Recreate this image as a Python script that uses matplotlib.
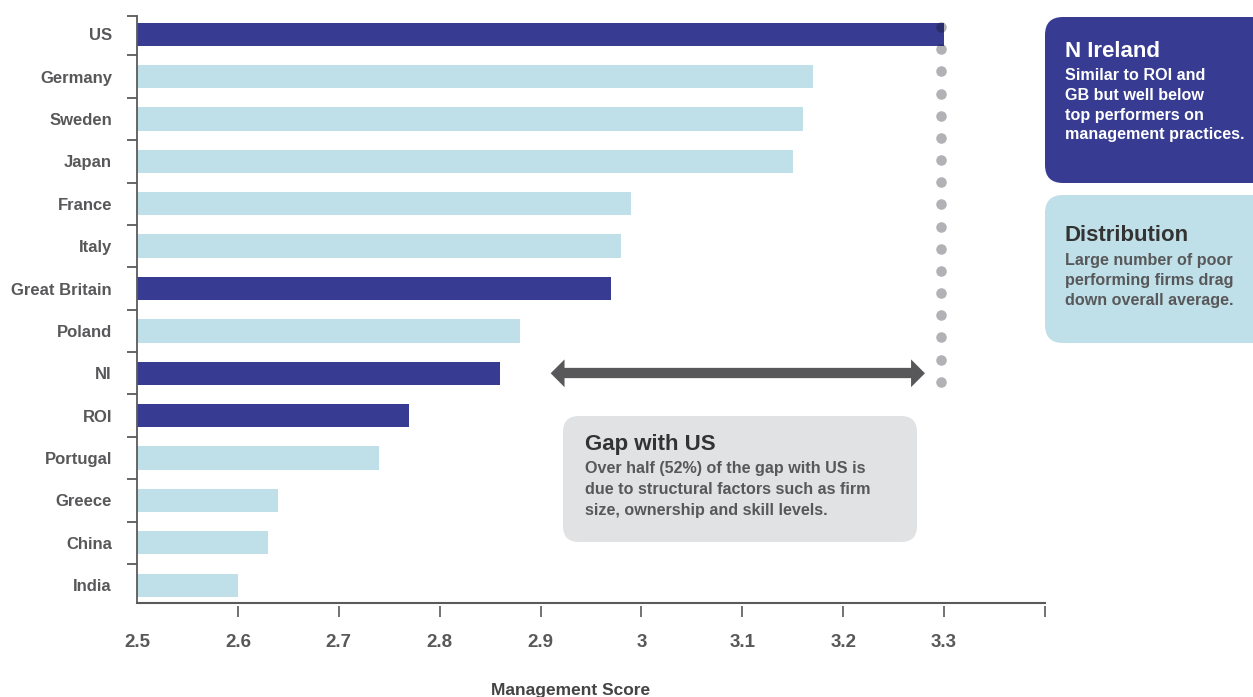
import numpy as np
import matplotlib
matplotlib.use("Agg")
import matplotlib.pyplot as plt
from matplotlib.patches import FancyBboxPatch, FancyArrowPatch

# ---------------- data ----------------
countries = ["US", "Germany", "Sweden", "Japan", "France", "Italy", "Great Britain",
             "Poland", "NI", "ROI", "Portugal", "Greece", "China", "India"]
scores = [3.30, 3.17, 3.16, 3.15, 2.99, 2.98, 2.97, 2.88, 2.86, 2.77, 2.74, 2.64, 2.63, 2.60]
highlight = ["US", "Great Britain", "NI", "ROI"]
x_ticks = [2.5, 2.6, 2.7, 2.8, 2.9, 3.0, 3.1, 3.2, 3.3, 3.4]
x_tick_labels = ["2.5", "2.6", "2.7", "2.8", "2.9", "3", "3.1", "3.2", "3.3", ""]
x_label = "Management Score"

gap_title = "Gap with US"
gap_lines = ["Over half (52%) of the gap with US is",
             "due to structural factors such as firm",
             "size, ownership and skill levels."]
ni_title = "N Ireland"
ni_lines = ["Similar to ROI and", "GB but well below",
            "top performers on", "management practices."]
dist_title = "Distribution"
dist_lines = ["Large number of poor", "performing firms drag",
              "down overall average."]

# ---------------- style ----------------
DARK = "#373c92"
LIGHT = "#bfe0e8"
GREY_TXT = "#58585a"
AX_COL = "#5a5a5c"
ARROW_COL = "#58585a"
FONT = ["Liberation Sans", "DejaVu Sans"]
plt.rcParams["font.family"] = FONT
plt.rcParams["font.weight"] = "bold"

W, H = 1253, 697
fig = plt.figure(figsize=(W / 100, H / 100), dpi=100)
fig.patch.set_facecolor("white")

L, R, T, B = 137, 1045, 16, 603
ax = fig.add_axes([L / W, 1 - B / H, (R - L) / W, (B - T) / H])

ypos = np.arange(len(countries))
colors = [DARK if c in highlight else LIGHT for c in countries]
ax.barh(ypos, np.array(scores) - 2.5, left=2.5, height=0.55, color=colors, zorder=2)

y_top = -0.43
y_bot = len(countries) - 0.58
ax.set_xlim(2.5, 3.4)
ax.set_ylim(y_bot, y_top)

# spines
for s in ["top", "right"]:
    ax.spines[s].set_visible(False)
ax.spines["left"].set_color(AX_COL)
ax.spines["left"].set_linewidth(1.3)
ax.spines["bottom"].set_position(("outward", 2.5))
ax.spines["bottom"].set_visible(False)
ax.axhline(y_bot, color=AX_COL, lw=1.5, clip_on=False, zorder=3)

# y ticks: labels at centers, marks at boundaries
ax.set_yticks(ypos)
ax.set_yticklabels(countries, fontsize=12, fontweight="bold", color=GREY_TXT)
ax.tick_params(axis="y", which="major", length=0, pad=18)
ax.set_yticks([y_top] + list(np.arange(0.5, len(countries) - 1, 1.0)), minor=True)
ax.tick_params(axis="y", which="minor", length=7.5, width=1.3, color=AX_COL, direction="out")

# x ticks
ax.set_xticks(x_ticks)
ax.set_xticklabels(x_tick_labels, fontsize=13.5, fontweight="bold", color=GREY_TXT)
ax.tick_params(axis="x", which="major", length=8, width=1.2, color=AX_COL, direction="out", pad=12)
ax.xaxis.get_major_ticks()[0].tick1line.set_visible(False)

# dotted reference line at US score
us_val = scores[countries.index("US")]
ni_idx = countries.index("NI")
ni_val = scores[ni_idx]
dot_y = np.linspace(-0.17, 8.2, 17)
ax.plot(np.full(dot_y.size, us_val - 0.003), dot_y, "o", ms=7.6, color="#10101c", alpha=0.32,
        mec="none", clip_on=False, zorder=4)

# gap arrow (double-headed) between NI and US: shaft + two heads
x0, x1 = ni_val + 0.05, us_val - 0.019
ax.plot([x0 + 0.007, x1 - 0.007], [ni_idx, ni_idx], color=ARROW_COL, lw=7.4,
        solid_capstyle="butt", clip_on=False, zorder=4)
for start, xe in ((x0 + 0.02, x0), (x1 - 0.02, x1)):
    ar = FancyArrowPatch((start, ni_idx), (xe, ni_idx),
                         arrowstyle="simple,head_length=0.5,head_width=1.0,tail_width=0.02",
                         mutation_scale=20, color=ARROW_COL, shrinkA=0, shrinkB=0,
                         clip_on=False, zorder=5, lw=0)
    ax.add_patch(ar)

# ---------------- overlay in pixel coords ----------------
ov = fig.add_axes([0, 0, 1, 1], facecolor="none")
ov.set_xlim(0, W)
ov.set_ylim(H, 0)
ov.axis("off")


def box(x, y, w, h, color, r):
    ov.add_patch(FancyBboxPatch((x, y), w, h, boxstyle=f"round,pad=0,rounding_size={r}",
                                fc=color, ec="none", clip_on=False))


def block(x, y_title, title, lines, y_lines, tcol, bcol):
    ov.text(x, y_title, title, fontsize=16, fontweight="bold", color=tcol, va="baseline", ha="left")
    for ln, yy in zip(lines, y_lines):
        ov.text(x, yy, ln, fontsize=11.6, fontweight="bold", color=bcol, va="baseline", ha="left")


box(563, 416, 354, 126, "#e1e2e4", 16)
block(585, 450, gap_title, gap_lines, [473, 494, 515], "#333333", GREY_TXT)

box(1045, 17, 240, 166, DARK, 18)
block(1065, 57, ni_title, ni_lines, [80, 100, 120, 139], "white", "white")

box(1045, 195, 240, 148, "#bfe0e8", 18)
block(1065, 241, dist_title, dist_lines, [265, 285, 305], "#333333", GREY_TXT)

ov.text(571, 683, x_label, fontsize=12.5, fontweight="bold", color="#444444", ha="center", va="top")

fig.savefig("out.png", dpi=100, facecolor="white")
